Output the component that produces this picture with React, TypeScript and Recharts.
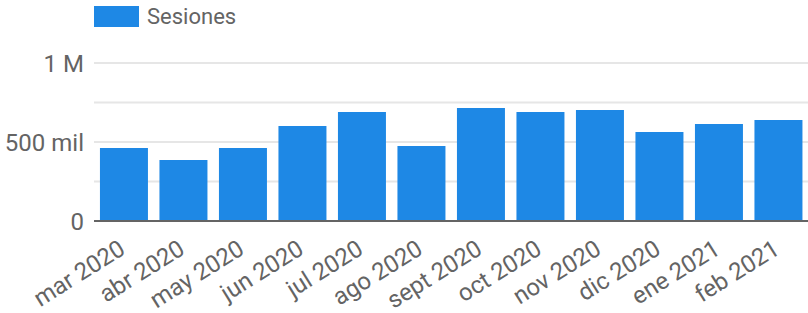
import React from 'react';
import { BarChart, Bar, XAxis, YAxis, CartesianGrid } from 'recharts';

const months = [
  'mar 2020', 'abr 2020', 'may 2020', 'jun 2020', 'jul 2020', 'ago 2020',
  'sept 2020', 'oct 2020', 'nov 2020', 'dic 2020', 'ene 2021', 'feb 2021',
];
const sesiones = [462000, 386000, 462000, 601000, 690000, 475000, 715000, 690000, 703000, 563000, 614000, 639000];
const yTicks = [0, 250000, 500000, 750000, 1000000];
const yLabels: Record<number, string> = { 0: '0', 500000: '500 mil', 1000000: '1 M' };

const data = months.map((m, i) => ({ month: m, sesiones: sesiones[i] }));

const BLUE = '#1e88e5';
const TEXT = '#646464';
const FONT = 'Roboto, sans-serif';

const MonthTick = (props: any) => {
  const { x, y, payload } = props;
  return (
    <g transform={`translate(${x + 3},${y + 32})`}>
      <text textAnchor="end" transform="rotate(-32)" fill={TEXT} fontSize={24} fontFamily={FONT}>
        {payload.value}
      </text>
    </g>
  );
};

export default function App() {
  return (
    <div style={{ position: 'absolute', left: 0, top: 0, width: 808, height: 313, background: '#fff' }}>
      {/* legend drawn outside the chart so it doesn't push the plot down */}
      <div
        style={{
          position: 'absolute', left: 94, top: 6, display: 'flex', alignItems: 'center',
          fontFamily: FONT, fontSize: 22, color: TEXT, lineHeight: '21px', zIndex: 1,
        }}
      >
        <span style={{ display: 'inline-block', width: 45, height: 21, background: BLUE, marginRight: 8 }} />
        <span>Sesiones</span>
      </div>
      <BarChart width={808} height={313} data={data} margin={{ top: 63, right: 0, bottom: 0, left: 0 }}>
        <CartesianGrid vertical={false} stroke="#e6e6e6" strokeWidth={2} />
        <YAxis
          width={94}
          domain={[0, 1000000]}
          ticks={yTicks}
          interval={0}
          axisLine={false}
          tickLine={false}
          tickSize={0}
          tickMargin={10}
          tickFormatter={(v: number) => yLabels[v] ?? ''}
          tick={{ fill: TEXT, fontSize: 24, fontFamily: FONT }}
        />
        <XAxis
          dataKey="month"
          height={92}
          interval={0}
          tickLine={false}
          tickSize={0}
          tickMargin={0}
          axisLine={{ stroke: TEXT, strokeWidth: 2 }}
          tick={<MonthTick />}
        />
        <Bar dataKey="sesiones" fill={BLUE} barCategoryGap={5} isAnimationActive={false} />
      </BarChart>
    </div>
  );
}
